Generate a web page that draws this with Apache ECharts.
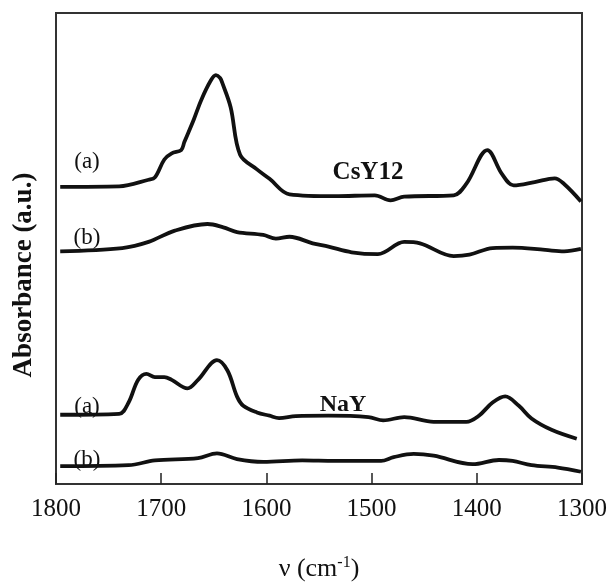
<!DOCTYPE html>
<html>
<head>
<meta charset="utf-8">
<script src="https://cdn.jsdelivr.net/npm/echarts@6/dist/echarts.min.js"></script>
<style>html,body{margin:0;padding:0;background:#fff;}#c{width:610px;height:587px;}</style>
</head>
<body>
<div id="c"></div>
<script>
// wavenumber (cm-1) and absorbance (a.u.)
const csyA_x = [1796,1740,1712,1706,1697,1690,1681,1678,1669,1662,1653,1648,1644,1642,1634,1625,1609,1597,1578,1535,1497,1482,1469,1422,1410,1390,1376,1365,1345,1326,1317,1301];
const csyA_y = [63.1,63.2,64.6,65.1,68.9,70.2,70.9,72.6,77.4,81.5,85.6,86.8,86.2,85.2,80.0,69.9,66.8,64.8,61.5,61.1,61.3,60.2,61.0,61.3,63.7,70.9,65.8,63.4,64.1,64.9,63.7,60.0];

const csyB_x = [1796,1737,1712,1687,1656,1641,1628,1603,1591,1578,1556,1541,1519,1494,1469,1454,1422,1407,1385,1366,1335,1317,1301];
const csyB_y = [49.4,50.1,51.4,53.8,55.2,54.5,53.5,52.9,52.1,52.5,51.1,50.4,49.2,48.8,51.4,51.1,48.4,48.7,50.1,50.2,49.7,49.4,49.9];

const nayA_x = [1796,1740,1731,1722,1714,1706,1697,1690,1675,1665,1647,1637,1628,1622,1609,1597,1588,1572,1541,1503,1489,1469,1441,1410,1398,1385,1373,1360,1348,1329,1305];
const nayA_y = [14.7,14.9,17.3,22.1,23.4,22.7,22.7,22.1,20.3,22.1,26.3,24.1,18.6,16.6,15.2,14.5,14.0,14.4,14.5,14.2,13.5,14.2,13.2,13.2,14.5,17.3,18.6,16.6,13.9,11.5,9.6];

const nayB_x = [1796,1731,1706,1665,1647,1628,1603,1566,1535,1491,1479,1460,1441,1404,1379,1366,1348,1323,1301];
const nayB_y = [3.8,4.0,5.0,5.5,6.5,5.3,4.7,5.0,4.9,4.9,5.7,6.4,6.0,4.2,5.1,4.9,4.0,3.5,2.6];

const xTicks = [1800,1700,1600,1500,1400,1300];
const seriesNames = ['CsY12 (a)','CsY12 (b)','NaY (a)','NaY (b)'];

const pair = (xs, ys) => xs.map((x, i) => [x, ys[i]]);
const allData = [pair(csyA_x, csyA_y), pair(csyB_x, csyB_y), pair(nayA_x, nayA_y), pair(nayB_x, nayB_y)];

const serif = '"Liberation Serif", "Times New Roman", serif';
const chart = echarts.init(document.getElementById('c'));
chart.setOption({
  animation: false,
  grid: {left: 56, right: 19, top: 13, bottom: 86, show: true, borderColor: '#333', borderWidth: 2, backgroundColor: 'transparent'},
  xAxis: {
    type: 'value', inverse: true, min: 1300, max: 1800, interval: 100,
    axisLine: {show: true, lineStyle: {color: '#333', width: 2}},
    axisTick: {show: true, inside: true, length: 11, lineStyle: {color: '#222', width: 1.5}},
    splitLine: {show: false},
    axisLabel: {
      color: '#111', fontFamily: serif, fontSize: 25, margin: 13,
      formatter: v => xTicks.includes(v) ? String(v) : ''
    },
    name: '{a|ν (cm}{s|-1}{a|)}', nameLocation: 'middle', nameGap: 71,
    nameTextStyle: {rich: {
      a: {fontFamily: serif, fontSize: 26, color: '#111'},
      s: {fontFamily: serif, fontSize: 16, color: '#111', verticalAlign: 'top', padding: [0, 0, 12, 0]}
    }}
  },
  yAxis: {
    type: 'value', min: 0, max: 100,
    axisLine: {show: true, lineStyle: {color: '#333', width: 2}},
    axisTick: {show: false}, axisLabel: {show: false}, splitLine: {show: false}
  },
  series: allData.map((d, i) => ({
    name: seriesNames[i], type: 'line', data: d, smooth: 0.35, showSymbol: false,
    lineStyle: {color: '#111', width: 3.8}
  })),
  graphic: [
    {type: 'text', x: 24, y: 275, rotation: Math.PI / 2, style: {text: 'Absorbance (a.u.)', font: 'bold 27px ' + serif, fill: '#111', align: 'center', verticalAlign: 'middle'}},
    {type: 'text', x: 87, y: 162, style: {text: '(a)', font: '23px ' + serif, fill: '#111', align: 'center', verticalAlign: 'middle'}},
    {type: 'text', x: 87, y: 238, style: {text: '(b)', font: '23px ' + serif, fill: '#111', align: 'center', verticalAlign: 'middle'}},
    {type: 'text', x: 368, y: 173, style: {text: 'CsY12', font: 'bold 25px ' + serif, fill: '#111', align: 'center', verticalAlign: 'middle'}},
    {type: 'text', x: 87, y: 407, style: {text: '(a)', font: '23px ' + serif, fill: '#111', align: 'center', verticalAlign: 'middle'}},
    {type: 'text', x: 87, y: 460, style: {text: '(b)', font: '23px ' + serif, fill: '#111', align: 'center', verticalAlign: 'middle'}},
    {type: 'text', x: 343, y: 405, style: {text: 'NaY', font: 'bold 24px ' + serif, fill: '#111', align: 'center', verticalAlign: 'middle'}}
  ]
});
</script>
</body>
</html>
